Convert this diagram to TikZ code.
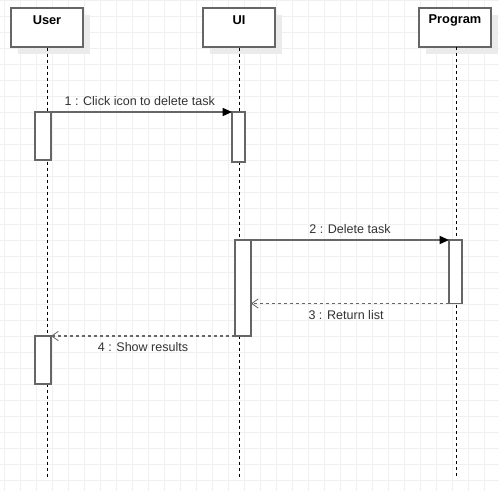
\documentclass[tikz,border=0pt]{standalone}
\usepackage{fontspec}
\setmainfont{Liberation Sans}
\usetikzlibrary{arrows.meta}
\definecolor{gridc}{HTML}{F0F0F0}
\definecolor{linec}{HTML}{666666}
\definecolor{txtc}{HTML}{333333}
\definecolor{shadowc}{HTML}{EBEBEB}
\tikzset{
  actor/.style={draw=linec, line width=1.1pt, fill=white, minimum width=54pt, minimum height=29.25pt, inner sep=0pt},
  actlabel/.style={font=\bfseries\fontsize{9.6}{11}\selectfont, text=black},
  activation/.style={draw=linec, line width=1.1pt, fill=white},
  lifeline/.style={draw=black, line width=0.75pt, dash pattern=on 2.25pt off 2.25pt},
  callmsg/.style={draw=linec, line width=1.1pt, -{Triangle[length=7pt,width=6pt,color=black]}},
  retmsg/.style={draw=linec, line width=1.1pt, dash pattern=on 2.25pt off 2.25pt, -{Straight Barb[length=5pt,width=7pt,line width=0.6pt,color=linec]}},
  msglabel/.style={font=\fontsize{9.4}{11}\selectfont, text=txtc},
}
\begin{document}
\begin{tikzpicture}[x=0.75pt,y=-0.75pt]
\useasboundingbox (0,0) rectangle (499,491);
\fill[white] (0,0) rectangle (499,491);
% grid
\foreach \gx in {4,20,...,500} \draw[gridc, line width=0.6pt] (\gx,0) -- (\gx,491);
\foreach \gy in {0,16,...,491} \draw[gridc, line width=0.6pt] (0,\gy) -- (499,\gy);
% shadows
\fill[shadowc] (18,15) rectangle (90,54);
\fill[shadowc] (210,15) rectangle (282,54);
\fill[shadowc] (426,15) rectangle (498,54);
% lifeline anchors
\coordinate (uend) at (47,478);
\coordinate (iend) at (239,478);
\coordinate (pend) at (456,478);
% actors
\node[actor] (user) at (47,27.5) {};
\node[actor] (ui) at (239,27.5) {};
\node[actor] (prog) at (455,27.5) {};
\node[actlabel] at (47,20) {User};
\node[actlabel] at (239,20) {UI};
\node[actlabel] at (455,20) {Program};
% lifelines
\draw[lifeline] (user.south) -- (uend);
\draw[lifeline] (ui.south) -- (iend);
\draw[lifeline] (456,47) -- (pend);
% activations
\draw[activation] (35,112) rectangle (51,160);
\coordinate (ua1r) at (51,112);
\draw[activation] (232,112) rectangle (245,162);
\coordinate (ia1l) at (232,112);
\draw[activation] (235,240) rectangle (251,336);
\coordinate (ia2r) at (251,240);
\coordinate (ia2r3) at (251,303.5);
\coordinate (ia2l) at (235,336);
\draw[activation] (449,240) rectangle (462,303.5);
\coordinate (pa1l) at (449,240);
\coordinate (pa1b) at (449,303.5);
\draw[activation] (35,336) rectangle (51,384);
\coordinate (ua2r) at (51,336);
% messages
\draw[callmsg] (ua1r) -- (ia1l) node[msglabel, pos=0.49, above=1pt] {1 : Click icon to delete task};
\draw[callmsg] (ia2r) -- (pa1l) node[msglabel, midway, above=1pt] {2 : Delete task};
\draw[retmsg] (pa1b) -- (ia2r3) node[msglabel, pos=0.52, below=1pt] {3 : Return list};
\draw[retmsg] (ia2l) -- (ua2r) node[msglabel, midway, below=1pt] {4 : Show results};
\end{tikzpicture}
\end{document}
